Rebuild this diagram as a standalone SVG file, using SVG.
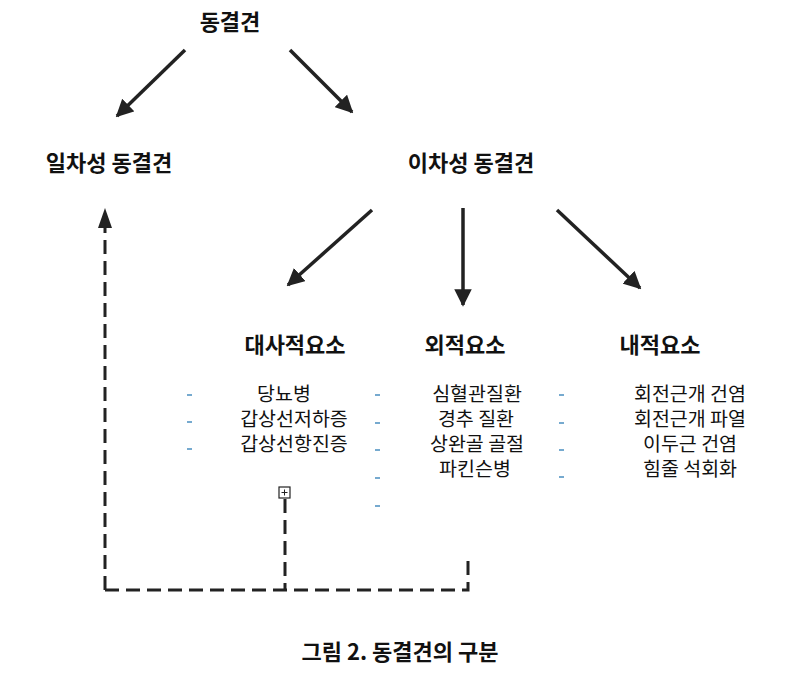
<svg xmlns="http://www.w3.org/2000/svg" width="800" height="686" viewBox="0 0 800 686">
<defs>
<style>
text{font-family:"Noto Sans CJK KR","Noto Sans",sans-serif;fill:#111}
.b{font-weight:bold;font-size:22px}
.n{font-size:19.5px}
.d{stroke:#4a8fc0;stroke-width:1.5}
.a{stroke:#222;stroke-width:3.5;fill:none;marker-end:url(#ah)}
.ds{stroke:#222;stroke-width:3;fill:none;stroke-dasharray:14,7}
</style>
<marker id="ah" viewBox="0 0 10 10" refX="9" refY="5" markerWidth="5" markerHeight="5" orient="auto"><path d="M0,0L10,5L0,10z" fill="#222"/></marker>
</defs>
<rect width="800" height="686" fill="#fff"/>
<g id="n-top"><text class="b" x="230" y="30" text-anchor="middle">동결견</text></g>
<g id="n-primary"><text class="b" x="109" y="171" text-anchor="middle">일차성 동결견</text></g>
<g id="n-secondary"><text class="b" x="471" y="171" text-anchor="middle">이차성 동결견</text></g>
<g id="n-meta"><text class="b" x="295" y="353" text-anchor="middle">대사적요소</text>
<g text-anchor="middle" class="n"><text x="284" y="401">당뇨병</text><text x="294" y="426">갑상선저하증</text><text x="294" y="451">갑상선항진증</text></g>
<path class="d" d="M187,395h5M187,422h5M187,449h5"/>
<rect x="279" y="487" width="11" height="11" fill="#fff" stroke="#222" stroke-width="1.2"/><path d="M281.5,492.5h6M284.5,489.5v6" stroke="#222" stroke-width="1"/></g>
<g id="n-ext"><text class="b" x="465" y="353" text-anchor="middle">외적요소</text>
<g text-anchor="middle" class="n"><text x="477" y="401">심혈관질환</text><text x="476" y="426">경추 질환</text><text x="477" y="451">상완골 골절</text><text x="475" y="476">파킨슨병</text></g>
<path class="d" d="M375,395h5M375,423h5M375,450h5M375,478h5M375,506h5"/>
<path class="d" d="M559,395h5M559,423h5M559,450h5M559,477h5"/></g>
<g id="n-int"><text class="b" x="660" y="353" text-anchor="middle">내적요소</text>
<g text-anchor="middle" class="n"><text x="690" y="401">회전근개 건염</text><text x="690" y="426">회전근개 파열</text><text x="690" y="451">이두근 건염</text><text x="690" y="476">힘줄 석회화</text></g></g>
<g id="connectors">
<path class="a" d="M185,50L117,116"/>
<path class="a" d="M290,50L352,112"/>
<path class="a" d="M372,210L288,285"/>
<path class="a" d="M463,208V305"/>
<path class="a" d="M557,210L640,288"/>
<path class="ds" d="M285,499V590M105,590H468V555M105,590V222"/>
<path d="M98,228L105,208L112,228z" fill="#222"/>
</g>
<g id="caption"><text class="b" x="400" y="660" text-anchor="middle" font-size="20">그림 2. 동결견의 구분</text></g>
</svg>
